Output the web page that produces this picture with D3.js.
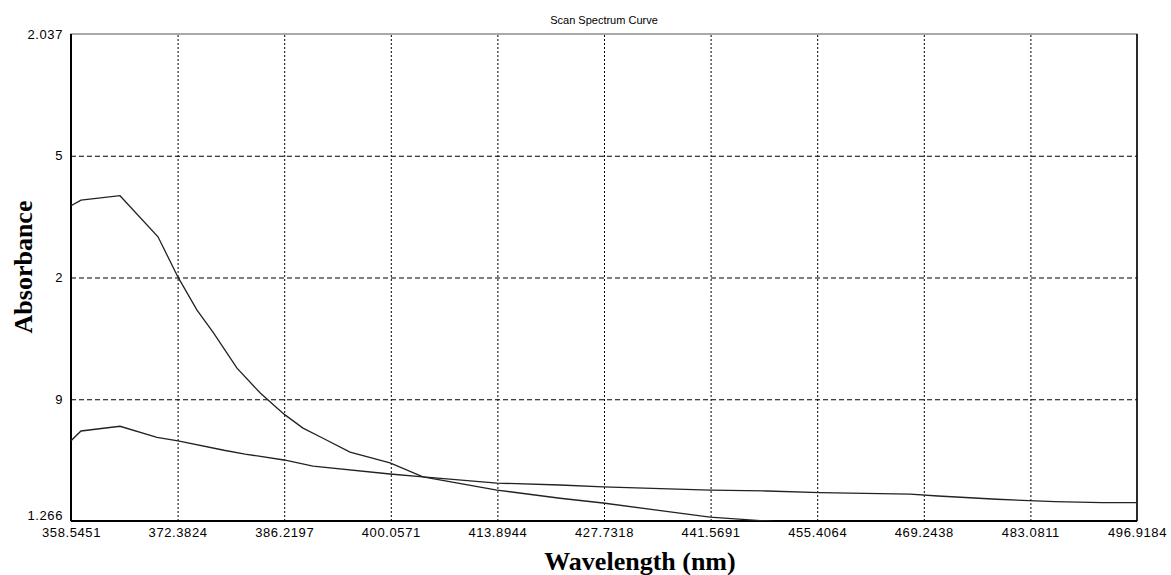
<!DOCTYPE html>
<html>
<head>
<meta charset="utf-8">
<script src="https://cdn.jsdelivr.net/npm/d3@7"></script>
<style>
  body { margin: 0; background: #fff; }
  svg { display: block; }
  .tick text { font-family: "Liberation Sans", Arial, sans-serif; font-size: 13px; letter-spacing: 0.6px; fill: #000; }
</style>
</head>
<body>
<svg id="chart"></svg>
<script>
// wavelength (nm) / absorbance
const upperWl = [358.545, 359.843, 364.906, 369.838, 372.435, 374.901, 376.978, 380.093, 383.079,
                 385.285, 386.324, 388.660, 391.256, 394.761, 399.953, 404.237, 413.842, 422.020,
                 427.602, 441.491, 448.890, 450.580];
const upperAbs = [1.765, 1.774, 1.781, 1.716, 1.652, 1.600, 1.565, 1.508, 1.469,
                  1.445, 1.434, 1.413, 1.397, 1.375, 1.358, 1.336, 1.315, 1.302,
                  1.2945, 1.272, 1.266, 1.2645];

const lowerWl = [358.545, 359.843, 364.906, 369.708, 372.435, 378.405, 381.131, 386.193, 389.958,
                 399.953, 404.237, 413.842, 422.020, 427.602, 441.491, 448.890, 455.770, 467.453,
                 471.087, 478.746, 486.275, 492.376, 496.918];
const lowerAbs = [1.393, 1.4085, 1.416, 1.3985, 1.393, 1.378, 1.372, 1.3626, 1.353,
                  1.3404, 1.3357, 1.326, 1.323, 1.320, 1.315, 1.3135, 1.311, 1.3087,
                  1.3056, 1.3004, 1.2966, 1.295, 1.295];

const xTicks = [358.5451, 372.3824, 386.2197, 400.0571, 413.8944, 427.7318,
                441.5691, 455.4064, 469.2438, 483.0811, 496.9184];
const xTickLabels = ["358.5451", "372.3824", "386.2197", "400.0571", "413.8944", "427.7318",
                     "441.5691", "455.4064", "469.2438", "483.0811", "496.9184"];
const yTicks = [1.266, 1.45875, 1.6515, 1.84425, 2.037];
const yTickLabels = ["1.266", "9", "2", "5", "2.037"];

const width = 1171, height = 575;
const margin = {top: 34, right: 34, bottom: 54, left: 71};
const w = width - margin.left - margin.right;
const h = height - margin.top - margin.bottom;

const svg = d3.select("#chart").attr("width", width).attr("height", height);

const x = d3.scaleLinear().domain([358.5451, 496.9184]).range([0, w]);
const y = d3.scaleLinear().domain([1.266, 2.037]).range([h, 0]);

const g = svg.append("g").attr("transform", `translate(${margin.left},${margin.top})`);

// grid
g.append("g")
  .attr("transform", `translate(0,${h})`)
  .call(d3.axisBottom(x).tickValues(xTicks.slice(1, -1)).tickSize(-h).tickFormat(""))
  .call(s => s.select(".domain").remove())
  .selectAll("line").attr("stroke", "#000").attr("stroke-dasharray", "2,2");

g.append("g")
  .call(d3.axisLeft(y).tickValues(yTicks.slice(1, -1)).tickSize(-w).tickFormat(""))
  .call(s => s.select(".domain").remove())
  .selectAll("line").attr("stroke", "#000").attr("stroke-dasharray", "5,3");

// frame
g.append("rect").attr("width", w).attr("height", h)
  .attr("fill", "none").attr("stroke", "#555").attr("stroke-width", 1);
g.append("line").attr("x1", 0).attr("x2", 0).attr("y1", 0).attr("y2", h)
  .attr("stroke", "#000").attr("stroke-width", 2);
g.append("line").attr("x1", 0).attr("x2", w).attr("y1", h).attr("y2", h)
  .attr("stroke", "#000").attr("stroke-width", 2);
g.append("line").attr("x1", w).attr("x2", w).attr("y1", 0).attr("y2", h)
  .attr("stroke", "#000").attr("stroke-width", 1.5);

// tick labels
const xAxis = g.append("g")
  .attr("transform", `translate(0,${h})`)
  .call(d3.axisBottom(x).tickValues(xTicks).tickSize(0).tickPadding(7)
    .tickFormat((d, i) => xTickLabels[i]));
xAxis.select(".domain").remove();

const yAxis = g.append("g")
  .call(d3.axisLeft(y).tickValues(yTicks).tickSize(0).tickPadding(8)
    .tickFormat((d, i) => yTickLabels[i]));
yAxis.select(".domain").remove();
yAxis.selectAll(".tick text").filter((d, i) => i === 0).attr("dy", "-0.15em");

// curves
g.append("clipPath").attr("id", "clip")
  .append("rect").attr("width", w).attr("height", h);

const line = d3.line().x(d => x(d[0])).y(d => y(d[1]));
const series = [d3.zip(upperWl, upperAbs), d3.zip(lowerWl, lowerAbs)];

g.append("g").attr("clip-path", "url(#clip)")
  .selectAll("path")
  .data(series)
  .join("path")
  .attr("d", line)
  .attr("fill", "none")
  .attr("stroke", "#222")
  .attr("stroke-width", 1.3);

// titles
svg.append("text")
  .attr("x", margin.left + w / 2).attr("y", 24)
  .attr("text-anchor", "middle")
  .style("font-family", "'Liberation Sans', Arial, sans-serif")
  .style("font-size", "11px")
  .text("Scan Spectrum Curve");

svg.append("text")
  .attr("x", 640).attr("y", 570)
  .attr("text-anchor", "middle")
  .style("font-family", "'Liberation Serif', 'Times New Roman', serif")
  .style("font-weight", "bold")
  .style("font-size", "26px")
  .text("Wavelength (nm)");

svg.append("text")
  .attr("transform", "translate(32,267) rotate(-90)")
  .attr("text-anchor", "middle")
  .style("font-family", "'Liberation Serif', 'Times New Roman', serif")
  .style("font-weight", "bold")
  .style("font-size", "26px")
  .text("Absorbance");
</script>
</body>
</html>
